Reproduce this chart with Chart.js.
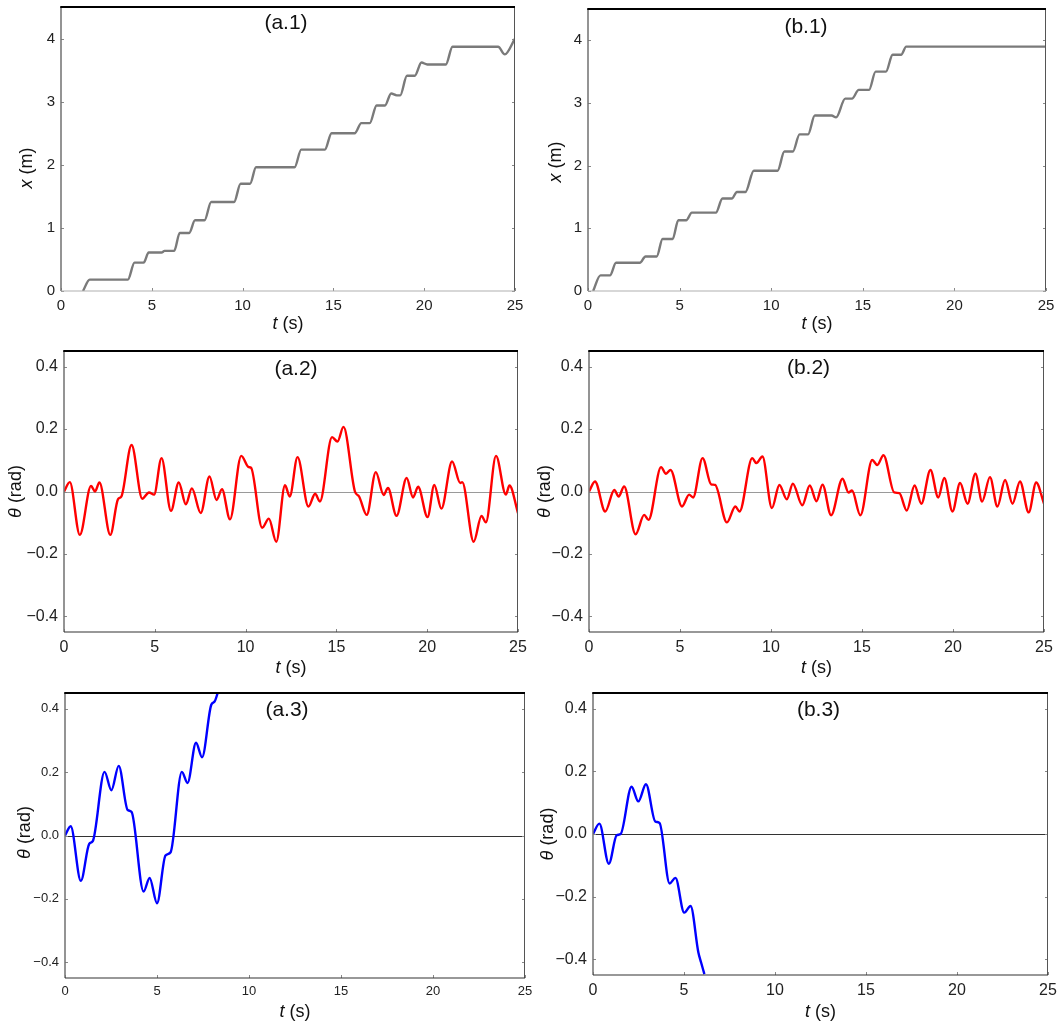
<!DOCTYPE html>
<html lang="en">
<head>
<meta charset="UTF-8">
<title>x(t) and θ(t)</title>
<style>
  body { margin: 0; background: #fff; width: 1059px; height: 1022px; position: relative; overflow: hidden; }
  canvas { position: absolute; }
</style>
</head>
<body>
<canvas id="a1"></canvas>
<canvas id="b1"></canvas>
<canvas id="a2"></canvas>
<canvas id="b2"></canvas>
<canvas id="a3"></canvas>
<canvas id="b3"></canvas>

<script src="https://cdn.jsdelivr.net/npm/chart.js"></script>
<script>
// tick values
const tTicks = [0, 5, 10, 15, 20, 25];
const xTicks = [0, 1, 2, 3, 4];
const thTicks = [-0.4, -0.2, 0, 0.2, 0.4];

// (a.1) x (m) against t (s)
const tA1 = [1.21, 1.58, 3.68, 4.05, 4.55, 4.83, 5.54, 5.7, 6.23, 6.54, 7.06, 7.38, 7.9, 8.27, 9.53, 9.89, 10.41, 10.74, 12.86, 13.23,
             14.53, 14.9, 16.17, 16.54, 17.0, 17.38, 17.84, 18.18, 18.49, 18.68, 19.05, 19.48, 19.85, 20.17, 21.19, 21.56, 24.07, 24.44, 25];
const xA1 = [0, 0.18, 0.18, 0.45, 0.45, 0.61, 0.61, 0.635, 0.635, 0.92, 0.92, 1.12, 1.12, 1.41, 1.41, 1.70, 1.70, 1.96, 1.96, 2.24,
             2.24, 2.50, 2.50, 2.66, 2.66, 2.94, 2.94, 3.13, 3.10, 3.10, 3.41, 3.41, 3.62, 3.59, 3.59, 3.87, 3.87, 3.75, 4.0];

// (b.1)
const tB1 = [0.28, 0.68, 1.2, 1.53, 2.83, 3.14, 3.75, 4.07, 4.62, 4.93, 5.36, 5.67, 6.98, 7.34, 7.85, 8.13, 8.59, 9.05, 10.35, 10.72,
             11.18, 11.55, 12.01, 12.38, 13.3, 13.54, 14.04, 14.41, 14.78, 15.34, 15.7, 16.26, 16.63, 17.09, 17.37, 25];
const xB1 = [0, 0.25, 0.25, 0.45, 0.45, 0.55, 0.55, 0.83, 0.83, 1.13, 1.13, 1.25, 1.25, 1.475, 1.475, 1.58, 1.58, 1.92, 1.92, 2.225,
             2.225, 2.50, 2.50, 2.80, 2.80, 2.77, 3.07, 3.07, 3.21, 3.21, 3.50, 3.50, 3.77, 3.77, 3.90, 3.90];

// (a.2) θ (rad)
const tA2 = [0, 0.32, 0.87, 1.49, 1.71, 1.95, 2.55, 2.97, 3.16, 3.72, 4.31, 4.68, 4.96, 5.37, 5.89, 6.32, 6.71, 7.04, 7.53, 8.01,
             8.40, 8.70, 9.14, 9.76, 10.17, 10.3, 10.91, 11.28, 11.69, 12.17, 12.43, 12.86, 13.46, 13.83, 14.09, 14.76, 15.06, 15.39, 16.02, 16.25,
             16.67, 17.17, 17.6, 17.84, 18.31, 18.87, 19.22, 19.5, 20.02, 20.39, 20.78, 21.37, 21.82, 21.93, 22.56, 22.99, 23.23, 23.79, 24.33, 24.53, 25];
const thA2 = [0, 0.03, -0.139, 0.018, 0.0, 0.029, -0.139, -0.025, -0.016, 0.149, -0.023, -0.003, -0.01, 0.107, -0.062, 0.029, -0.041, 0.01, -0.069, 0.048,
              -0.027, 0.007, -0.089, 0.114, 0.078, 0.076, -0.116, -0.087, -0.161, 0.02, -0.016, 0.11, -0.048, -0.007, -0.032, 0.174, 0.16, 0.207, 0.0, -0.016,
              -0.075, 0.062, -0.011, 0.011, -0.078, 0.043, -0.019, 0.015, -0.082, 0.021, -0.055, 0.096, 0.027, 0.03, -0.161, -0.078, -0.099, 0.114, -0.01, 0.019, -0.069];

// (b.2)
const tB2 = [0, 0.33, 0.89, 1.39, 1.63, 1.93, 2.56, 3.03, 3.27, 3.96, 4.23, 4.48, 5.11, 5.5, 5.72, 6.24, 6.71, 6.93, 7.58, 8.04,
             8.27, 8.97, 9.19, 9.53, 10.05, 10.46, 10.87, 11.2, 11.72, 12.13, 12.5, 12.83, 13.3, 13.93, 14.26, 14.45, 14.91, 15.56, 15.84, 16.18,
             16.77, 17.05, 17.46, 17.89, 18.26, 18.76, 19.19, 19.52, 19.97, 20.39, 20.8, 21.23, 21.6, 22.03, 22.44, 22.86, 23.27, 23.68, 24.16, 24.57, 25];
const thB2 = [0, 0.032, -0.064, 0.005, -0.016, 0.016, -0.137, -0.075, -0.091, 0.078, 0.057, 0.069, -0.048, -0.01, -0.019, 0.107, 0.023, 0.021, -0.099, -0.048,
              -0.064, 0.107, 0.091, 0.112, -0.053, 0.021, -0.025, 0.025, -0.044, 0.019, -0.031, 0.022, -0.076, 0.041, -0.003, 0.003, -0.076, 0.101, 0.085, 0.116,
              -0.003, -0.005, -0.061, 0.019, -0.039, 0.069, -0.019, 0.043, -0.064, 0.027, -0.039, 0.057, -0.032, 0.046, -0.048, 0.037, -0.039, 0.032, -0.067, 0.029, -0.039];

// (a.3)
const tA3 = [0, 0.31, 0.86, 1.32, 1.51, 2.15, 2.52, 2.92, 3.4, 3.62, 4.27, 4.6, 5.0, 5.46, 5.74, 6.35, 6.66, 7.12, 7.45, 7.95, 8.13, 8.31];
const thA3 = [0, 0.029, -0.143, -0.026, -0.018, 0.201, 0.143, 0.22, 0.081, 0.074, -0.177, -0.134, -0.214, -0.063, -0.053, 0.201, 0.166, 0.293, 0.247, 0.413, 0.423, 0.452];

// (b.3)
const tB3 = [0, 0.35, 0.87, 1.3, 1.52, 2.12, 2.49, 2.91, 3.42, 3.66, 4.21, 4.53, 5.01, 5.36, 5.79, 5.94, 6.12];
const thB3 = [0, 0.033, -0.095, -0.004, 0.0, 0.151, 0.104, 0.159, 0.04, 0.035, -0.158, -0.14, -0.251, -0.23, -0.378, -0.41, -0.447];

const FONT = '"Liberation Sans", Arial, Helvetica, sans-serif';

// plot boxes are [left, top, right, bottom] in page pixels
const panels = [
  { id: 'a1', label: '(a.1)', t: tA1, v: xA1, color: '#7a7a7a', box: [61, 7, 515, 291], yMin: 0, yMax: 4.5, yTicks: xTicks, dec: 0,
    yName: 'x', yUnit: ' (m)', tick: 15, zero: null, bottom: '#b0b0b0', labelDx: -2, labelDy: 16, xTitleDy: 33, yTitleDx: 34, yTitleDy: 19 },
  { id: 'b1', label: '(b.1)', t: tB1, v: xB1, color: '#7a7a7a', box: [588, 9, 1046, 291], yMin: 0, yMax: 4.5, yTicks: xTicks, dec: 0,
    yName: 'x', yUnit: ' (m)', tick: 15, zero: null, bottom: '#b0b0b0', labelDx: -11, labelDy: 18, xTitleDy: 33, yTitleDx: 32, yTitleDy: 12 },
  { id: 'a2', label: '(a.2)', t: tA2, v: thA2, color: '#ff0000', box: [64, 351, 518, 632], yMin: -0.45, yMax: 0.45, yTicks: thTicks, dec: 1,
    yName: 'θ', yUnit: ' (rad)', tick: 16, zero: '#9a9a9a', bottom: '#333', labelDx: 5, labelDy: 18, xTitleDy: 36, yTitleDx: 48, yTitleDy: 0 },
  { id: 'b2', label: '(b.2)', t: tB2, v: thB2, color: '#ff0000', box: [589, 351, 1044, 632], yMin: -0.45, yMax: 0.45, yTicks: thTicks, dec: 1,
    yName: 'θ', yUnit: ' (rad)', tick: 16, zero: '#9a9a9a', bottom: '#333', labelDx: -8, labelDy: 17, xTitleDy: 36, yTitleDx: 44, yTitleDy: 0 },
  { id: 'a3', label: '(a.3)', t: tA3, v: thA3, color: '#0000ff', box: [65, 693, 525, 978], yMin: -0.45, yMax: 0.45, yTicks: thTicks, dec: 1,
    yName: 'θ', yUnit: ' (rad)', tick: 13, zero: '#333', bottom: '#333', labelDx: -8, labelDy: 17, xTitleDy: 34, yTitleDx: 40, yTitleDy: -3 },
  { id: 'b3', label: '(b.3)', t: tB3, v: thB3, color: '#0000ff', box: [593, 693, 1048, 975], yMin: -0.45, yMax: 0.45, yTicks: thTicks, dec: 1,
    yName: 'θ', yUnit: ' (rad)', tick: 16, zero: '#333', bottom: '#333', labelDx: -2, labelDy: 17, xTitleDy: 37, yTitleDx: 45, yTitleDy: 0 }
];

const PADL = 60, PADT = 8, PADR = 14, PADB = 50;

// draws "t (s)" style labels: italic symbol, upright unit
function drawLabel(ctx, name, unit, size, cx, cy, angle) {
  const fi = 'italic ' + size + 'px ' + FONT, fn = size + 'px ' + FONT;
  ctx.save();
  ctx.translate(cx, cy);
  ctx.rotate(angle);
  ctx.textBaseline = 'middle';
  ctx.textAlign = 'left';
  ctx.fillStyle = '#111';
  ctx.font = fi;
  const w1 = ctx.measureText(name).width;
  ctx.font = fn;
  const w2 = ctx.measureText(unit).width;
  let x = -(w1 + w2) / 2;
  ctx.font = fi;
  ctx.fillText(name, x, 0);
  ctx.font = fn;
  ctx.fillText(unit, x + w1, 0);
  ctx.restore();
}

function framePlugin(p) {
  return {
    id: 'frame_' + p.id,
    beforeDatasetsDraw(chart) {
      if (!p.zero) return;
      const { ctx, chartArea: a, scales: { y } } = chart;
      const yz = Math.round(y.getPixelForValue(0)) + 0.5;
      ctx.save();
      ctx.strokeStyle = p.zero;
      ctx.lineWidth = 1;
      ctx.beginPath();
      ctx.moveTo(a.left, yz);
      ctx.lineTo(a.right, yz);
      ctx.stroke();
      ctx.restore();
    },
    afterDatasetsDraw(chart) {
      const { ctx, chartArea: a, scales: { x, y } } = chart;
      ctx.save();
      // small inner tick marks
      ctx.strokeStyle = '#888';
      ctx.lineWidth = 1;
      ctx.beginPath();
      p.yTicks.forEach(v => {
        const py = Math.round(y.getPixelForValue(v)) + 0.5;
        ctx.moveTo(a.left, py); ctx.lineTo(a.left + 3, py);
        ctx.moveTo(a.right, py); ctx.lineTo(a.right - 3, py);
      });
      tTicks.forEach(v => {
        const px = Math.round(x.getPixelForValue(v)) + 0.5;
        ctx.moveTo(px, a.bottom); ctx.lineTo(px, a.bottom - 3);
      });
      ctx.stroke();
      // frame
      ctx.lineWidth = 1.5;
      ctx.strokeStyle = '#707070';
      ctx.beginPath(); ctx.moveTo(a.left, a.top); ctx.lineTo(a.left, a.bottom); ctx.stroke();
      ctx.lineWidth = 1;
      ctx.strokeStyle = '#555';
      ctx.beginPath(); ctx.moveTo(a.right - 0.5, a.top); ctx.lineTo(a.right - 0.5, a.bottom); ctx.stroke();
      ctx.strokeStyle = p.bottom;
      ctx.lineWidth = 1.2;
      ctx.beginPath(); ctx.moveTo(a.left, a.bottom); ctx.lineTo(a.right, a.bottom); ctx.stroke();
      ctx.strokeStyle = '#000';
      ctx.lineWidth = 2;
      ctx.beginPath(); ctx.moveTo(a.left - 0.75, a.top); ctx.lineTo(a.right, a.top); ctx.stroke();
      ctx.restore();
    },
    afterDraw(chart) {
      const { ctx, chartArea: a } = chart;
      const cx = (a.left + a.right) / 2;
      ctx.save();
      ctx.font = '21px ' + FONT;
      ctx.fillStyle = '#111';
      ctx.textAlign = 'center';
      ctx.textBaseline = 'middle';
      ctx.fillText(p.label, cx + p.labelDx, a.top + p.labelDy);
      ctx.restore();
      drawLabel(ctx, 't', ' (s)', 18, cx, a.bottom + p.xTitleDy, 0);
      drawLabel(ctx, p.yName, p.yUnit, 18, a.left - p.yTitleDx, (a.top + a.bottom) / 2 + p.yTitleDy, -Math.PI / 2);
    }
  };
}

function fmtY(p) {
  return v => p.dec === 0 ? String(v) : (v < 0 ? '\u2212' : '') + Math.abs(v).toFixed(p.dec);
}

panels.forEach(p => {
  const [L, T, R, B] = p.box;
  const cv = document.getElementById(p.id);
  cv.width = R - L + PADL + PADR;
  cv.height = B - T + PADT + PADB;
  cv.style.left = (L - PADL) + 'px';
  cv.style.top = (T - PADT) + 'px';

  new Chart(cv, {
    type: 'line',
    data: {
      datasets: [{
        data: p.t.map((t, i) => ({ x: t, y: p.v[i] })),
        borderColor: p.color,
        borderWidth: 2.4,
        pointRadius: 0,
        fill: false,
        cubicInterpolationMode: 'monotone'
      }]
    },
    options: {
      responsive: false,
      animation: false,
      devicePixelRatio: 1,
      layout: { padding: { top: PADT, right: PADR, left: 0, bottom: 0 } },
      plugins: { legend: { display: false }, tooltip: { enabled: false } },
      scales: {
        x: {
          type: 'linear', min: 0, max: 25,
          grid: { display: false, drawTicks: false },
          border: { display: false },
          ticks: { color: '#222', padding: 6, maxRotation: 0, font: { family: FONT, size: p.tick }, callback: v => String(v) },
          afterBuildTicks: s => { s.ticks = tTicks.map(v => ({ value: v })); },
          afterFit: s => { s.height = PADB; s.paddingLeft = 0; s.paddingRight = 0; }
        },
        y: {
          type: 'linear', min: p.yMin, max: p.yMax,
          grid: { display: false, drawTicks: false },
          border: { display: false },
          ticks: { color: '#222', padding: 6, font: { family: FONT, size: p.tick }, callback: fmtY(p) },
          afterBuildTicks: s => { s.ticks = p.yTicks.map(v => ({ value: v })); },
          afterFit: s => { s.width = PADL; s.paddingTop = 0; s.paddingBottom = 0; }
        }
      }
    },
    plugins: [framePlugin(p)]
  });
});
</script>
</body>
</html>
